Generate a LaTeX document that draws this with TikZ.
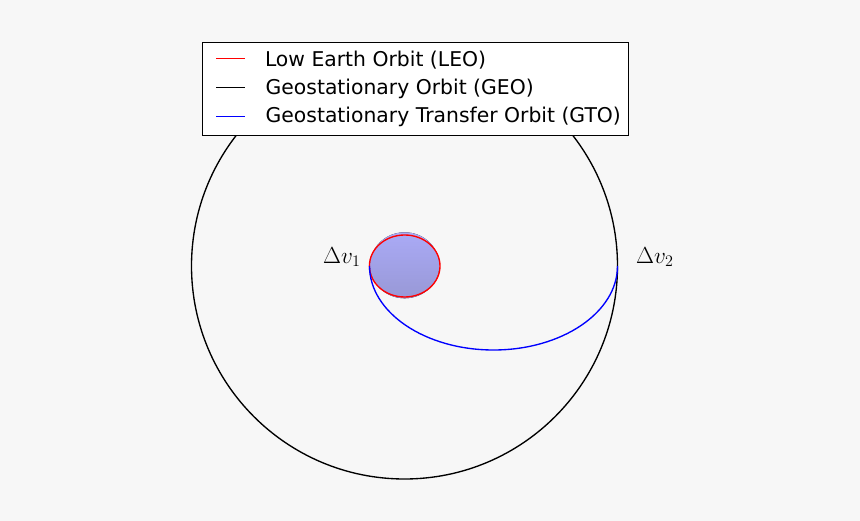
\documentclass[tikz,border=0pt]{standalone}
\usepackage{fontspec}
\newfontfamily\legfont{DejaVu Sans}
\definecolor{bgc}{RGB}{247,247,247}
\newcommand{\dvtext}[1]{\scalebox{1.12}{\fontsize{20}{24}\selectfont$#1$}}
\begin{document}
\begin{tikzpicture}[x=1pt,y=-1pt,
  orbit/.style={line width=1.35pt},
  legtext/.style={anchor=base west,inner sep=0pt,font=\legfont\fontsize{20.35}{24}\selectfont},
  dvlabel/.style={anchor=base west,inner sep=0pt},
  legline/.style={line width=1.35pt}]
\fill[bgc] (0,0) rectangle (860,521);
\useasboundingbox (0,0) rectangle (860,521);
% GEO
\draw[orbit,black] (404.5,266) circle[radius=213];
% Earth
\fill[top color={rgb,255:red,170;green,170;blue,246},bottom color={rgb,255:red,152;green,152;blue,214}] (404.7,265.3) ellipse[x radius=34.6,y radius=33];
% LEO
\draw[orbit,red] (404.7,266) ellipse[x radius=35.3,y radius=31];
% GTO
\draw[orbit,blue] (369.5,266) arc[start angle=180,end angle=0,x radius=124,y radius=84];
% labels
\node[dvlabel] (dv1) at (323,263.5) {\dvtext{\Delta v_1}};
\node[dvlabel] (dv2) at (636,263.5) {\dvtext{\Delta v_2}};
% legend
\draw[fill=white,draw=black,line width=1pt] (202.7,42.3) rectangle (628.3,135.3);
\coordinate (l1a) at (216,58.7); \coordinate (l1b) at (245,58.7);
\coordinate (l2a) at (216,87.3); \coordinate (l2b) at (245,87.3);
\coordinate (l3a) at (216,116.3); \coordinate (l3b) at (245,116.3);
\draw[legline,red] (l1a) -- (l1b);
\draw[legline,black] (l2a) -- (l2b);
\draw[legline,blue] (l3a) -- (l3b);
\node[legtext] (t1) at (264.8,66.3) {Low Earth Orbit (LEO)};
\node[legtext] (t2) at (265.5,94.7) {Geostationary Orbit (GEO)};
\node[legtext] (t3) at (265.5,123) {Geostationary Transfer Orbit (GTO)};
\end{tikzpicture}
\end{document}
